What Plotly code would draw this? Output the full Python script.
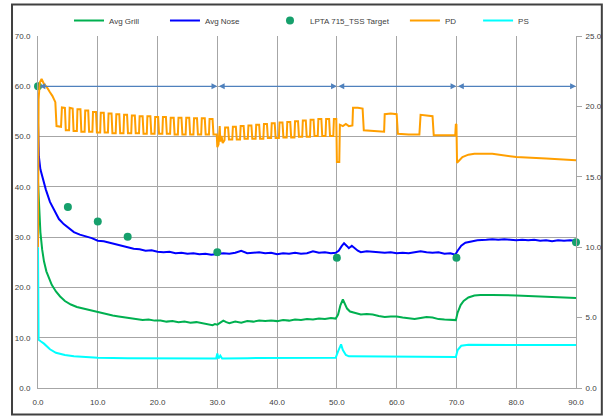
import plotly.graph_objects as go

# ---------------- data ----------------
grill_x = [0, 0.15, 0.4, 0.7, 1.0, 1.4, 1.8, 2.3, 3.0, 3.7, 4.5, 5.5, 6.5, 7.5, 8.5, 9.5, 10.5, 11.5,
           12.5, 13.5, 14.5, 15.5, 16.5, 17.5, 18.5, 19.5, 20.5, 21.5, 22.5, 23.5, 24.5, 25.5, 26.5,
           27.5, 28.5, 29.2, 29.6, 30.0, 30.5, 31.0, 31.5, 32.0, 33.0, 34.0, 35.0, 36.0, 37.0, 38.0,
           39.0, 40.0, 41.0, 42.0, 43.0, 44.0, 45.0, 46.0, 47.0, 48.0, 49.0, 49.8, 50.2, 50.6, 51.0,
           51.3, 51.7, 52.2, 53.0, 54.0, 55.0, 56.0, 57.0, 58.0, 59.0, 60.0, 61.0, 62.0, 63.0, 64.0,
           65.0, 66.0, 67.0, 68.0, 69.0, 69.9, 70.2, 70.7, 71.2, 72.0, 73.0, 74.0, 76.0, 78.0, 80.0,
           82.0, 84.0, 86.0, 88.0, 90.0]
grill_y = [41.0, 36.0, 31.0, 27.5, 25.2, 23.2, 21.8, 20.5, 19.2, 18.2, 17.3, 16.6, 16.1, 15.8, 15.5,
           15.2, 14.9, 14.6, 14.4, 14.2, 14.0, 13.8, 13.7, 13.5, 13.6, 13.4, 13.4, 13.2, 13.3, 13.1,
           13.2, 13.0, 13.1, 12.9, 12.7, 12.5, 12.7, 12.6, 13.0, 13.4, 13.1, 12.9, 13.2, 13.0, 13.3,
           13.2, 13.4, 13.3, 13.4, 13.3, 13.5, 13.4, 13.6, 13.5, 13.7, 13.6, 13.8, 13.7, 13.9, 13.8,
           14.6, 16.5, 17.6, 16.8, 15.8, 15.2, 14.9, 14.6, 14.7, 14.6, 14.3, 14.1, 14.2, 14.2, 14.0,
           13.8, 13.7, 13.9, 14.1, 14.0, 13.7, 13.6, 13.6, 13.5, 15.0, 16.5, 17.3, 18.0, 18.4, 18.5,
           18.5, 18.5, 18.4, 18.3, 18.2, 18.1, 18.0, 17.9]

nose_x = [0, 0.15, 0.4, 0.8, 1.3, 2.0, 2.7, 3.5, 4.3, 5.0, 6.0, 7.0, 8.0, 9.0, 10.0, 11.0, 12.0,
          13.0, 14.0, 15.0, 16.0, 17.0, 18.0, 19.0, 20.0, 21.0, 22.0, 23.0, 24.0, 25.0, 26.0, 27.0,
          28.0, 29.0, 30.0, 31.0, 32.0, 33.0, 34.0, 35.0, 36.0, 37.0, 38.0, 39.0, 40.0, 41.0, 42.0,
          43.0, 44.0, 45.0, 46.0, 47.0, 48.0, 49.0, 49.8, 50.3, 50.8, 51.2, 51.7, 52.0, 52.5, 53.0,
          53.5, 54.0, 55.0, 56.0, 57.0, 58.0, 59.0, 60.0, 61.0, 62.0, 63.0, 64.0, 65.0, 66.0, 67.0,
          68.0, 69.0, 69.8, 70.2, 70.8, 71.5, 72.5, 73.5, 75.0, 76.0, 77.0, 78.0, 79.0, 80.0, 81.0,
          82.0, 83.0, 84.0, 85.0, 86.0, 87.0, 88.0, 89.0, 90.0]
nose_y = [52.8, 46.0, 43.5, 41.5, 39.5, 37.0, 35.3, 33.6, 32.6, 31.9, 31.0, 30.5, 30.2, 29.8, 29.3,
          29.2, 28.9, 28.6, 28.2, 28.0, 27.7, 27.6, 27.3, 27.4, 27.1, 27.0, 27.1, 26.8, 26.9, 26.7,
          26.8, 26.6, 26.7, 26.5, 26.6, 26.8, 26.7, 26.9, 27.3, 26.8, 26.9, 27.0, 26.8, 26.9, 26.6,
          26.8, 26.7, 26.9, 26.7, 26.8, 27.2, 26.9, 27.0, 26.8, 26.9, 27.3, 28.2, 28.8, 28.2, 27.8,
          28.3, 27.7, 27.3, 27.0, 27.2, 27.1, 27.0, 26.9, 27.0, 26.8, 26.9, 26.8, 27.0, 27.2, 27.0,
          26.9, 27.0, 26.7, 26.8, 26.5, 27.3, 28.3, 28.9, 29.2, 29.4, 29.5, 29.6, 29.5, 29.6, 29.5,
          29.4, 29.5, 29.4, 29.5, 29.3, 29.4, 29.2, 29.4, 29.3, 29.4, 29.3]

target_x = [0, 5, 10, 15, 30, 50, 70, 90]
target_y = [60.0, 36.0, 33.1, 30.1, 27.0, 25.9, 25.9, 29.0]

# PD on the secondary axis (right-hand units)
pd_data = [
    (0.0, 10.0), (0.1, 20.5), (0.3, 21.7), (0.6, 21.95), (1.0, 21.6), (1.5, 21.35), (2.0, 21.0),
    (2.4, 20.75), (2.9, 20.3), (3.1, 18.6), (3.85, 18.55),
    (4.0, 19.93), (4.5, 19.9), (4.65, 18.3), (5.2, 18.3),
    (5.3, 19.9), (5.8, 19.85), (5.95, 18.25), (6.5, 18.25),
    (6.6, 19.8), (7.1, 19.8), (7.25, 18.2), (7.8, 18.2),
    (7.9, 19.7), (8.4, 19.7), (8.55, 18.2), (9.1, 18.2),
    (9.2, 19.6), (9.7, 19.6), (9.85, 18.15), (10.4, 18.15),
    (10.5, 19.55), (11.0, 19.55), (11.15, 18.15), (11.7, 18.15),
    (11.8, 19.5), (12.3, 19.5), (12.45, 18.1), (13.0, 18.1),
    (13.1, 19.45), (13.6, 19.45), (13.75, 18.1), (14.3, 18.1),
    (14.4, 19.4), (14.9, 19.4), (15.05, 18.1), (15.6, 18.1),
    (15.7, 19.35), (16.2, 19.35), (16.35, 18.1), (16.9, 18.1),
    (17.0, 19.3), (17.5, 19.3), (17.65, 18.05), (18.2, 18.05),
    (18.3, 19.3), (18.8, 19.3), (18.95, 18.05), (19.5, 18.05),
    (19.6, 19.25), (20.1, 19.25), (20.25, 18.05), (20.8, 18.05),
    (20.9, 19.25), (21.4, 19.25), (21.55, 18.05), (22.1, 18.05),
    (22.2, 19.2), (22.7, 19.2), (22.85, 18.0), (23.4, 18.0),
    (23.5, 19.2), (24.0, 19.2), (24.15, 18.0), (24.7, 18.0),
    (24.8, 19.2), (25.3, 19.2), (25.45, 18.0), (26.0, 18.0),
    (26.1, 19.15), (26.6, 19.15), (26.75, 18.0), (27.3, 18.0),
    (27.4, 19.15), (27.9, 19.15), (28.05, 18.0), (28.6, 18.0),
    (28.7, 19.1), (29.2, 19.1), (29.35, 18.0), (29.9, 18.0),
    (30.0, 17.1), (30.2, 17.3), (30.4, 18.6), (30.5, 17.5), (30.7, 17.9), (30.9, 17.4),
    (31.2, 17.6),
    (31.3, 18.5), (31.8, 18.5), (31.95, 17.65), (32.5, 17.65),
    (32.6, 18.55), (33.1, 18.55), (33.25, 17.65), (33.8, 17.65),
    (33.9, 18.6), (34.4, 18.6), (34.55, 17.7), (35.1, 17.7),
    (35.2, 18.65), (35.7, 18.65), (35.85, 17.7), (36.4, 17.7),
    (36.5, 18.7), (37.0, 18.7), (37.15, 17.7), (37.7, 17.7),
    (37.8, 18.75), (38.3, 18.75), (38.45, 17.75), (39.0, 17.75),
    (39.1, 18.8), (39.6, 18.8), (39.75, 17.75), (40.3, 17.75),
    (40.4, 18.85), (40.9, 18.85), (41.05, 17.8), (41.6, 17.8),
    (41.7, 18.9), (42.2, 18.9), (42.35, 17.8), (42.9, 17.8),
    (43.0, 18.95), (43.5, 18.95), (43.65, 17.85), (44.2, 17.85),
    (44.3, 19.0), (44.8, 19.0), (44.95, 17.85), (45.5, 17.85),
    (45.6, 19.05), (46.1, 19.05), (46.25, 17.9), (46.8, 17.9),
    (46.9, 19.1), (47.4, 19.1), (47.55, 17.9), (48.1, 17.9),
    (48.2, 19.1), (48.7, 19.1), (48.85, 17.9), (49.4, 17.9),
    (49.5, 19.1), (49.9, 19.1), (50.0, 16.05), (50.4, 16.05), (50.5, 18.7), (51.0, 18.6),
    (51.5, 18.75), (52.0, 18.6), (52.6, 18.65), (52.7, 19.9), (53.5, 19.9), (54.3, 19.85),
    (54.5, 18.3), (56.0, 18.25), (57.9, 18.2), (58.0, 19.45), (59.0, 19.5), (60.0, 19.45),
    (60.2, 18.05), (62.0, 18.0), (63.8, 18.0), (64.0, 19.4), (65.0, 19.35), (66.0, 19.3),
    (66.2, 17.95), (68.0, 17.95), (69.8, 17.95), (69.9, 18.75), (70.0, 18.7), (70.1, 16.0),
    (70.5, 16.15), (71.0, 16.4), (72.0, 16.57), (73.0, 16.64), (76.0, 16.64), (78.0, 16.5),
    (80.0, 16.4), (85.0, 16.3), (88.0, 16.22), (90.0, 16.18),
]
pd_x = [p[0] for p in pd_data]
pd_y = [p[1] for p in pd_data]

ps_x = [0, 0.1, 0.5, 1.0, 2.0, 3.0, 4.5, 6.0, 8.0, 10.0, 15.0, 20.0, 25.0, 29.8, 30.0, 30.2, 30.5,
        30.8, 35.0, 40.0, 45.0, 49.8, 50.2, 50.7, 51.0, 51.5, 52.0, 55.0, 60.0, 65.0, 69.9, 70.2,
        70.8, 72.0, 80.0, 83.0, 85.0, 90.0]
ps_y = [10.0, 3.43, 3.3, 3.15, 2.75, 2.5, 2.35, 2.25, 2.2, 2.15, 2.12, 2.1, 2.1, 2.1, 2.45, 2.1,
        2.3, 2.1, 2.12, 2.13, 2.15, 2.15, 2.6, 3.1, 2.7, 2.35, 2.25, 2.25, 2.22, 2.22, 2.2, 2.7,
        3.0, 3.07, 3.08, 3.1, 3.05, 3.05]

phase_bounds = [0, 30, 50, 70, 90]
phase_level = 60

x_ticks = [0, 10, 20, 30, 40, 50, 60, 70, 80, 90]
y_ticks = [0, 10, 20, 30, 40, 50, 60, 70]
y2_ticks = [0, 5, 10, 15, 20, 25]

# ---------------- figure ----------------
FONT = "Liberation Sans"
TXT = "#404040"
GRID = "#A6A6A6"

fig = go.Figure()
fig.add_trace(go.Scatter(x=grill_x, y=grill_y, name="Avg Grill", mode="lines",
                         line=dict(color="#00B050", width=2), legend="legend"))
fig.add_trace(go.Scatter(x=nose_x, y=nose_y, name="Avg Nose", mode="lines",
                         line=dict(color="#0000FF", width=2), legend="legend2"))
fig.add_trace(go.Scatter(x=pd_x, y=pd_y, name="PD", mode="lines", yaxis="y2",
                         line=dict(color="#FF9F00", width=2), legend="legend4"))
fig.add_trace(go.Scatter(x=ps_x, y=ps_y, name="PS", mode="lines", yaxis="y2",
                         line=dict(color="#00FFFF", width=2), legend="legend5"))
fig.add_trace(go.Scatter(x=target_x, y=target_y, name="LPTA 715_TSS Target", mode="markers",
                         marker=dict(color="#16A06C", size=8), cliponaxis=False,
                         legend="legend3"))

# phase arrows at the target level
for a, b in zip(phase_bounds[:-1], phase_bounds[1:]):
    fig.add_annotation(x=b, y=phase_level, ax=a, ay=phase_level, xref="x", yref="y",
                       axref="x", ayref="y", text="", showarrow=True,
                       arrowside="end+start", arrowhead=2, arrowsize=0.9,
                       arrowwidth=1.3, arrowcolor="#4F81BD", standoff=0, startstandoff=0)

# outer frame
fig.add_shape(type="rect", xref="paper", yref="paper", x0=-0.0483, x1=1.048, y0=-0.075,
              y1=1.0895, line=dict(color="#404040", width=2), fillcolor="rgba(0,0,0,0)",
              layer="above")

leg_common = dict(orientation="h", yanchor="middle", y=1.044, xanchor="left",
                  font=dict(family=FONT, size=8, color=TXT), bgcolor="rgba(0,0,0,0)",
                  borderwidth=0, itemwidth=30)
fig.update_layout(
    width=606, height=419,
    margin=dict(l=38, r=30, t=36, b=31, autoexpand=False),
    paper_bgcolor="white", plot_bgcolor="white",
    font=dict(family=FONT, size=8, color=TXT),
    showlegend=True,
    legend=dict(x=0.0576, **leg_common),
    legend2=dict(x=0.236, **leg_common),
    legend3=dict(x=0.4312, **leg_common),
    legend4=dict(x=0.682, **leg_common),
    legend5=dict(x=0.818, **leg_common),
    xaxis=dict(range=[0, 90], tickvals=x_ticks, tickformat=".1f", showgrid=True,
               gridcolor=GRID, gridwidth=1, showline=True, linecolor=GRID, linewidth=1,
               zeroline=False, ticks="", ticklabelstandoff=6,
               tickfont=dict(family=FONT, size=8, color=TXT)),
    yaxis=dict(range=[0, 70], tickvals=y_ticks, tickformat=".1f", showgrid=True,
               gridcolor=GRID, gridwidth=1, showline=True, linecolor=GRID, linewidth=1,
               zeroline=False, ticks="", ticklabelstandoff=5,
               tickfont=dict(family=FONT, size=8, color=TXT)),
    yaxis2=dict(range=[0, 25], tickvals=y2_ticks, tickformat=".1f", overlaying="y",
                side="right", showgrid=False, showline=True, linecolor=GRID, linewidth=1,
                zeroline=False, ticks="outside", ticklen=5, tickcolor=GRID,
                ticklabelstandoff=2, tickfont=dict(family=FONT, size=8, color=TXT)),
)

fig.write_html("out.html", config={"displayModeBar": False},
               post_script="document.body.style.margin='0px';"
                           "document.body.style.overflow='hidden';")
